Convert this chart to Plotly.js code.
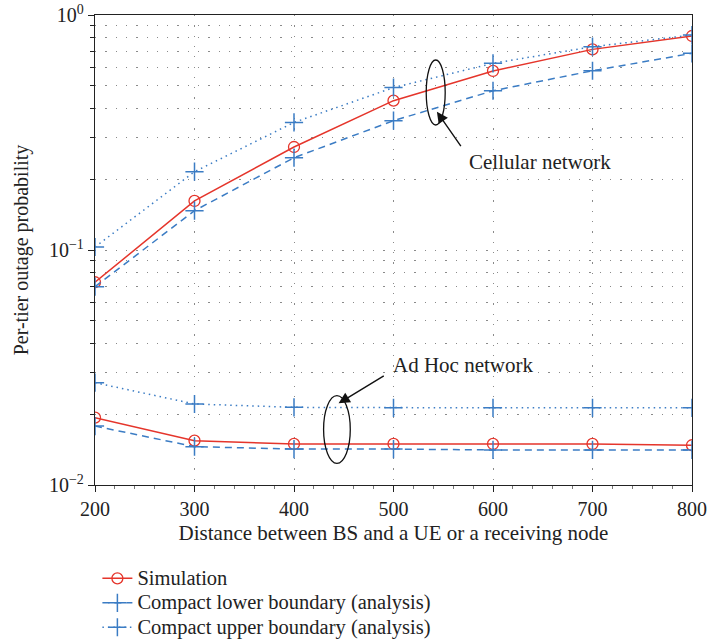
<!DOCTYPE html>
<html>
<head>
<meta charset="utf-8">
<script src="https://cdn.plot.ly/plotly-3.0.1.min.js"></script>
<style>html,body{margin:0;padding:0;background:#fff;}#chart{width:707px;height:643px;}</style>
</head>
<body>
<div id="chart"></div>
<script>
// Data
var distance = [200, 300, 400, 500, 600, 700, 800];
var cellSim   = [0.0729, 0.1617, 0.2744, 0.432, 0.578, 0.714, 0.814];
var cellLower = [0.0698, 0.147, 0.247, 0.355, 0.476, 0.579, 0.687];
var cellUpper = [0.103, 0.2154, 0.349, 0.491, 0.623, 0.733, 0.822];
var adhocSim   = [0.01934, 0.01544, 0.01495, 0.01495, 0.01495, 0.01495, 0.01476];
var adhocLower = [0.01782, 0.01456, 0.01422, 0.01422, 0.0141, 0.0141, 0.0141];
var adhocUpper = [0.02725, 0.02212, 0.0214, 0.0213, 0.0213, 0.0213, 0.0213];
var seriesNames = ['Simulation', 'Compact lower boundary (analysis)', 'Compact upper boundary (analysis)'];
var yTickVals = [0.01, 0.1, 1];
var yTickText = ['10<sup>\u22122</sup>', '10<sup>\u22121</sup>', '10<sup>0</sup>'];
var yMinorVals = [0.02,0.03,0.04,0.05,0.06,0.07,0.08,0.09,0.2,0.3,0.4,0.5,0.6,0.7,0.8,0.9];

var RED = '#e5352b', BLUE = '#3b7cc4';
var FONT = 'Liberation Serif, Times New Roman, serif';
var TXT = '#222';

function legendName(i) { return '<span style="font-size:20.5px">' + seriesNames[i] + '</span>'; }

function simTrace(y, show) {
  return {x: distance, y: y, name: legendName(0), mode: 'lines+markers', showlegend: show, legendgroup: 'sim',
    line: {color: RED, width: 1.5}, marker: {symbol: 'circle-open', size: 11, color: RED, line: {width: 1.3, color: RED}}};
}
function lowTrace(y, show) {
  return {x: distance, y: y, name: legendName(1), mode: 'lines+markers', showlegend: show, legendgroup: 'low',
    line: {color: BLUE, width: 1.5, dash: '7px,5px'}, marker: {symbol: 'cross-thin-open', size: 13, color: BLUE, line: {width: 1.5, color: BLUE}}};
}
function upTrace(y, show) {
  return {x: distance, y: y, name: legendName(2), mode: 'lines+markers', showlegend: show, legendgroup: 'up',
    line: {color: BLUE, width: 1.5, dash: '1.5px,4px'}, marker: {symbol: 'cross-thin-open', size: 13, color: BLUE, line: {width: 1.5, color: BLUE}}};
}

var data = [
  simTrace(cellSim, true), lowTrace(cellLower, true), upTrace(cellUpper, true),
  simTrace(adhocSim, false), lowTrace(adhocLower, false), upTrace(adhocUpper, false)
];

var gridCol = '#8a8a8a';
var gridDash = '1.3px,9px';
var layout = {
  width: 707, height: 643,
  margin: {l: 94.5, r: 15, t: 15, b: 158, autoexpand: false},
  paper_bgcolor: '#fff', plot_bgcolor: '#fff',
  font: {family: FONT, size: 20, color: TXT},
  showlegend: true,
  legend: {x: 0.004, y: -0.162, xanchor: 'left', yanchor: 'top', font: {family: FONT, size: 16.5, color: TXT},
    bgcolor: 'rgba(0,0,0,0)', tracegroupgap: 0, itemwidth: 30},
  xaxis: {
    type: 'linear', range: [200, 800], tickvals: distance, ticks: 'outside', ticklen: 6, tickcolor: TXT,
    showline: true, linecolor: TXT, linewidth: 1.2, mirror: true, zeroline: false,
    showgrid: true, gridcolor: gridCol, griddash: gridDash, gridwidth: 1,
    minor: {dtick: 20, ticks: 'outside', ticklen: 3, tickcolor: '#777', showgrid: false},
    tickfont: {family: FONT, size: 20, color: TXT},
    title: {text: 'Distance between BS and a UE or a receiving node', font: {family: FONT, size: 21, color: TXT}, standoff: 6}
  },
  yaxis: {
    type: 'log', range: [-2, 0], tickvals: yTickVals, ticktext: yTickText, ticks: 'outside', ticklen: 6, tickcolor: TXT,
    showline: true, linecolor: TXT, linewidth: 1.2, mirror: true, zeroline: false,
    showgrid: true, gridcolor: gridCol, griddash: gridDash, gridwidth: 1,
    minor: {tickvals: yMinorVals, ticks: 'outside', ticklen: 4, tickcolor: TXT,
      showgrid: true, gridcolor: gridCol, griddash: gridDash, gridwidth: 1},
    tickfont: {family: FONT, size: 20, color: TXT},
    title: {text: 'Per-tier outage probability', font: {family: FONT, size: 20, color: TXT}, standoff: 14}
  },
  shapes: [
    {type: 'circle', xref: 'paper', yref: 'paper', x0: 0.5548, x1: 0.5866, y0: 0.766, y1: 0.9043, line: {color: '#111', width: 1.3}},
    {type: 'circle', xref: 'paper', yref: 'paper', x0: 0.3829, x1: 0.4276, y0: 0.0462, y1: 0.19, line: {color: '#111', width: 1.3}}
  ],
  annotations: [
    {xref: 'paper', yref: 'paper', x: 0.5727, y: 0.7943, text: '', showarrow: true, arrowhead: 2, arrowsize: 1.6, arrowwidth: 1.4, arrowcolor: '#111', ax: 25, ay: 36},
    {xref: 'paper', yref: 'paper', x: 0.408, y: 0.1738, text: '', showarrow: true, arrowhead: 2, arrowsize: 1.6, arrowwidth: 1.4, arrowcolor: '#111', ax: 46.7, ay: -28.3},
    {xref: 'paper', yref: 'paper', x: 0.7456, y: 0.6872, xanchor: 'center', yanchor: 'middle', text: 'Cellular network', showarrow: false, font: {family: FONT, size: 21, color: TXT}},
    {xref: 'paper', yref: 'paper', x: 0.6167, y: 0.2553, xanchor: 'center', yanchor: 'middle', text: 'Ad Hoc network', showarrow: false, font: {family: FONT, size: 21, color: TXT}}
  ]
};

Plotly.newPlot('chart', data, layout, {staticPlot: true, displayModeBar: false});
</script>
</body>
</html>
